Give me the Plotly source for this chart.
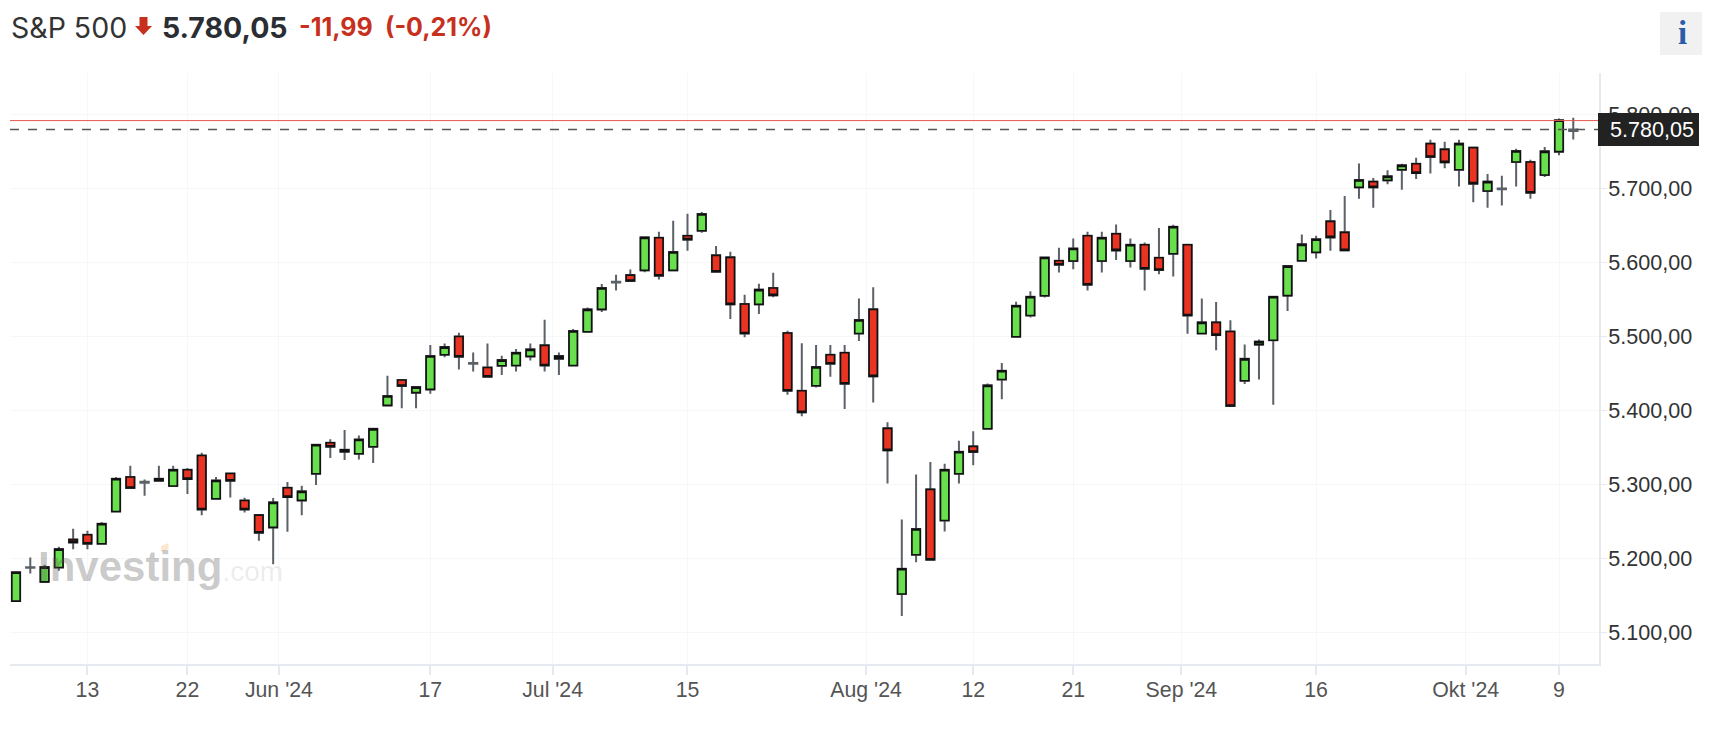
import plotly.graph_objects as go

opens = [5142,5187.2,5168,5187.5,5225.4,5231.7,5219.6,5263.3,5309.8,5302,5307.5,5297.6,5319.7,5339,5280.4,5314.7,5278,5258.3,5241.7,5295.3,5278.2,
5314.3,5356.2,5346.7,5341.3,5350.8,5406.7,5441,5424,5428.4,5475.3,5500,5463,5458,5460.4,5460.8,5473,5488,5473.5,5460.8,5506.4,5536.6,5573,5583,5589.4,5633.6,5589.4,5636.3,5643,5609.7,
5607,5543.9,5543.4,5565.5,5504.6,5426.6,5433.4,5475.3,5478,5504,5536.7,5375.7,5151.5,5204.7,5293.1,5251,5314.3,5351.3,5375.2,5441.7,
5499.6,5528.4,5555,5602.4,5602,5636.2,5602,5639,5602,5624,5606.4,5611.9,5624,5504,5519,5506.8,5440,5489,5494.8,5555.3,5602.5,
5613.8,5655.7,5640.8,5701.7,5709.4,5711.2,5725.6,5733.7,5760.8,5753.1,5725.6,5755.4,5696.8,5699,5736,5736,5718.4,5750,5778]
highs = [5181,5201,5191,5215.5,5240,5237,5249,5310,5325,5306.6,5325,5325,5322,5342.7,5310,5314.7,5281.8,5258.3,5281.3,5303,5298,
5353.5,5361,5373.4,5366,5375,5447,5442,5433,5488.4,5490.6,5505,5478.4,5490.6,5474,5483,5490.6,5522.6,5478.4,5510,5539.3,5571,5583.5,5590.7,5634,5641.7,5656.6,5666,5668.3,5622.3,
5614.6,5556.5,5571.4,5586.3,5507.8,5490.7,5488.4,5488.4,5488.4,5551.5,5566.4,5383.8,5252.5,5313.4,5330,5327.8,5359,5371.6,5436.5,5464,
5547,5561,5606.9,5620,5632.6,5641.6,5641.6,5651.5,5632.6,5627,5646.6,5651,5624,5551.4,5546.5,5522,5489,5496,5553.8,5595.2,5638,
5636.3,5671,5690,5734,5714.3,5724.7,5733.7,5741.8,5766.2,5763.5,5766.2,5755.4,5719.7,5717.5,5754,5739,5756.3,5795,5795.8]
lows = [5142,5179.4,5168,5183,5212,5212,5219.6,5263.3,5295,5284.5,5304.8,5297.6,5287,5258,5280.4,5282,5262,5223.6,5192,5235.8,5258,
5299,5335.5,5332.8,5333.7,5328.7,5406.7,5403,5403,5422.5,5472,5455.4,5452.7,5445.5,5447.8,5452.7,5467.6,5452.7,5447.8,5460.8,5506.4,5533,5562.3,5575,5586.7,5577.2,5589.4,5616,5640.3,5587.6,
5523.5,5498.8,5530.3,5553,5421.2,5392,5431,5445.6,5401.8,5493.8,5410.8,5301,5121.7,5194.4,5198,5236,5301,5325.6,5375.2,5415,
5499.6,5525.7,5552.8,5586.6,5591,5562,5586.6,5603.3,5593.4,5562,5584,5581,5503.6,5504,5481.5,5404.7,5435.6,5441.7,5407.7,5534.6,5601,
5605.6,5616,5616.5,5686.4,5674.2,5705.8,5698.5,5713,5720.6,5727.4,5703,5681.4,5674.2,5677,5703,5686.4,5715.7,5745,5766.3]
closes = [5181,5187.7,5188,5212.3,5221.4,5219.6,5246.6,5307.5,5295,5303.4,5304.8,5319.7,5307,5266,5305.2,5304.8,5266,5234.4,5275.5,5282.7,5290.4,
5353.5,5350.8,5344,5360.7,5375,5419.4,5433,5431.5,5473.5,5485.6,5472.6,5464,5445.5,5468,5478,5482.5,5460.8,5470,5507.3,5536.6,5565.5,5574,5575,5634,5582.2,5614.2,5631,5665.6,5587.6,
5543.4,5504,5563.3,5555.6,5426.6,5397.3,5458.6,5463,5436,5522.2,5446,5345.9,5185.8,5239.5,5198,5319.7,5344,5343.6,5433.8,5453.7,
5541.5,5553.7,5606.9,5597,5619,5570,5633.5,5616.4,5624,5591.6,5589.8,5648.4,5528.4,5519,5501.8,5406,5469.7,5493,5553.8,5595.2,5624.6,
5631.4,5634,5616.5,5711.6,5701.7,5716.6,5731.5,5721,5742.8,5735.5,5760.8,5706.7,5709.4,5700,5750.9,5694.5,5750.4,5792.4,5780.05]

tick_positions = [5, 12, 18.4, 29, 37.56, 47, 59.5, 67, 74, 81.57, 91, 101.47, 108]
tick_labels = ["13", "22", "Jun '24", "17", "Jul '24", "15", "Aug '24", "12", "21", "Sep '24", "16", "Okt '24", "9"]
price_ticks = [5100, 5200, 5300, 5400, 5500, 5600, 5700, 5800]
price_labels = ["5.100,00", "5.200,00", "5.300,00", "5.400,00", "5.500,00", "5.600,00", "5.700,00", "5.800,00"]
last_price = 5780.05
last_label = "5.780,05"
prev_close = 5792.04

PAGE = 8  # default page margin of the browser
W, H = 1710, 739
L, R, T, B = 10, 1599, 73, 664
GREEN, RED = "#68df4c", "#ea3322"
x = list(range(len(opens)))
def px(v): return (v - L) / (R - L)
def py(v): return 1 - (v - T) / (B - T)

# Near-flat sessions show as a thin grey cross: they get no black-outlined body.
DOJI = 2.1
keep = [abs(o - c) > DOJI for o, c in zip(opens, closes)]

fig = go.Figure()
fig.add_trace(go.Candlestick(x=x, open=opens, high=highs, low=lows, close=closes, hoverinfo="skip",
    increasing=dict(line=dict(color="#5b6166", width=2), fillcolor=GREEN),
    decreasing=dict(line=dict(color="#5b6166", width=2), fillcolor=RED)))
fig.add_trace(go.Candlestick(
    x=[i for i, k in zip(x, keep) if k],
    open=[o for o, k in zip(opens, keep) if k],
    close=[c for c, k in zip(closes, keep) if k],
    high=[max(o, c) for o, c, k in zip(opens, closes, keep) if k],
    low=[min(o, c) for o, c, k in zip(opens, closes, keep) if k],
    increasing=dict(line=dict(color="#111111", width=1.6), fillcolor=GREEN),
    decreasing=dict(line=dict(color="#111111", width=1.6), fillcolor=RED)))

shapes = [
    dict(type="line", xref="paper", yref="y", x0=0, x1=1, y0=prev_close, y1=prev_close,
         line=dict(color="#e5584f", width=1)),
    dict(type="line", xref="paper", yref="y", x0=0, x1=1, y0=last_price, y1=last_price,
         line=dict(color="#555555", width=1.6, dash="9px,9px")),
    dict(type="rect", xref="paper", yref="paper", x0=px(1598), x1=px(1699), y0=py(146), y1=py(113),
         fillcolor="#222222", line=dict(width=0)),
    dict(type="rect", xref="paper", yref="paper", x0=px(1660), x1=px(1703), y0=py(55), y1=py(12),
         fillcolor="#f1f1f1", line=dict(width=0)),
    dict(type="path", xref="paper", yref="paper", fillcolor="#c8301e", line=dict(width=0),
         path="M {a} {t} L {b} {t} L {b} {m} L {c} {m} L {d} {e} L {f} {m} L {a} {m} Z".format(
             a=px(139.5), b=px(147.5), c=px(152), d=px(143.5), f=px(135), t=py(17), m=py(26), e=py(35))),
    dict(type="path", xref="paper", yref="paper", fillcolor="#fbe6d0", line=dict(width=0), layer="above",
         path="M {a} {t} L {b} {u} L {b} {v} L {a} {w} Z".format(
             a=px(161), b=px(168.5), t=py(546), u=py(543), v=py(549), w=py(552))),
]

def text(xp, yp, s, size, color, family="Inter", anchor="left"):
    return dict(xref="paper", yref="paper", x=px(xp), y=py(yp), text=s, showarrow=False,
                xanchor=anchor, yanchor="middle", font=dict(family=family, size=size, color=color))

annotations = [
    text(9, 28, "S&P 500", 28.5, "#333333"),
    text(160, 28, "<b>5.780,05</b>", 28.5, "#2a2e33"),
    text(297, 27, "<b>-11,99</b>", 25, "#c8301e"),
    text(383, 27, "<b>(-0,21%)</b>", 25, "#c8301e"),
    text(1682, 33, "<b>i</b>", 33, "#2a5caa", "Liberation Serif", "center"),
    text(1608, 130, last_label, 21.6, "#ffffff", "Liberation Sans"),
    text(36, 566, '<b>Investing</b><span style="font-size:28px;color:rgba(110,110,110,0.42)">.com</span>',
         42, "rgba(90,90,90,0.33)", "Liberation Sans"),
]

fig.update_layout(
    width=W - PAGE, height=H - PAGE, autosize=False,
    margin=dict(l=L - PAGE, r=W - R, t=T - PAGE, b=H - B),
    paper_bgcolor="white", plot_bgcolor="white", showlegend=False, boxgap=0.42, boxgroupgap=0,
    shapes=shapes, annotations=annotations,
    xaxis=dict(type="linear", range=[-0.42, 110.8], rangeslider=dict(visible=False),
               tickmode="array", tickvals=tick_positions, ticktext=tick_labels,
               showgrid=True, gridcolor="#f6f7f9", gridwidth=1, zeroline=False,
               showline=True, linecolor="#e6e9f0", linewidth=2,
               ticks="outside", ticklen=9, tickwidth=2, tickcolor="#e6e9f0", ticklabelstandoff=-4,
               tickfont=dict(family="Liberation Sans", size=21.3, color="#555555")),
    yaxis=dict(side="right", range=[5056.9, 5856.4],
               tickmode="array", tickvals=price_ticks, ticktext=price_labels,
               showgrid=True, gridcolor="#f6f7f9", gridwidth=1, zeroline=False,
               showline=True, linecolor="#e6e9f0", linewidth=2,
               ticks="outside", ticklen=6, tickwidth=1, tickcolor="#e6e9f0", ticklabelstandoff=-3,
               tickfont=dict(family="Liberation Sans", size=21.6, color="#333333")),
)
fig.write_html("out.html", config={"displayModeBar": False})
